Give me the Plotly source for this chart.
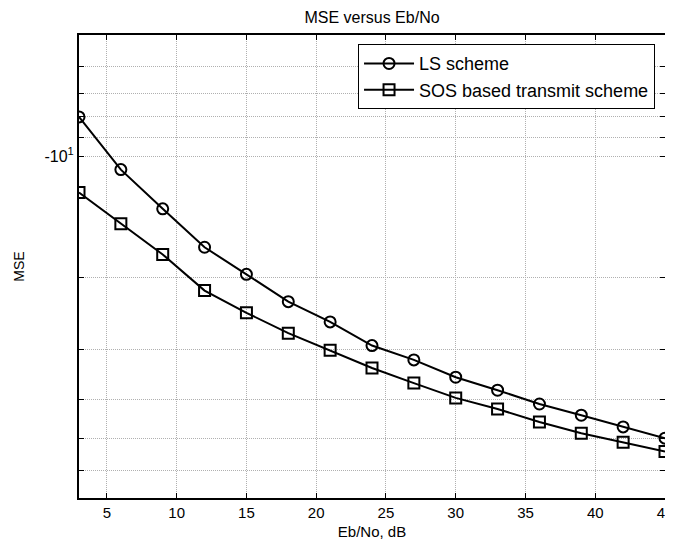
import math
import plotly.graph_objects as go

eb_no = [3, 6, 9, 12, 15, 18, 21, 24, 27, 30, 33, 36, 39, 42, 45]
mse_ls = [-8.0, -10.8, -13.5, -16.8, -19.6, -22.9, -25.7, -29.4, -31.9, -35.2,
          -37.9, -41.0, -43.7, -46.7, -49.8]
mse_sos = [-12.3, -14.7, -17.5, -21.5, -24.4, -27.4, -30.2, -33.4, -36.4, -39.6,
           -42.2, -45.4, -48.4, -51.0, -53.7]

x_ticks = [5, 10, 15, 20, 25, 30, 35, 40, 45]
y_tick_vals = [-6, -7, -8, -9, -10, -20, -30, -40, -50, -60]
y_tick_text = ["", "", "", "", "-10<sup>1</sup>", "", "", "", "", ""]
y_limits = [-5.02, -70]


# MATLAB-style log axis for negative data: plot magnitudes, label as negatives
def mag(v):
    return [-a for a in v]


font = "Liberation Sans, Arial, sans-serif"

# page body has an 8px margin, so the figure is sized/offset to compensate
W, H = 665, 532
ML, MR, MT, MB = 71, 8, 27, 42

fig = go.Figure()
fig.add_trace(go.Scatter(
    x=eb_no, y=mag(mse_ls), name="LS scheme", mode="lines+markers",
    line=dict(color="black", width=2),
    marker=dict(symbol="circle-open", size=11, color="black", line=dict(width=2)),
))
fig.add_trace(go.Scatter(
    x=eb_no, y=mag(mse_sos), name="SOS based transmit scheme", mode="lines+markers",
    line=dict(color="black", width=2),
    marker=dict(symbol="square-open", size=11, color="black", line=dict(width=2)),
))

fig.update_layout(
    width=W, height=H,
    margin=dict(l=ML, r=MR, t=MT, b=MB, autoexpand=False),
    paper_bgcolor="white", plot_bgcolor="white",
    font=dict(family=font, size=14, color="black"),
    title=dict(text="MSE versus Eb/No", x=(ML + (W - MR)) / 2 / W, xanchor="center",
               y=1 - 9 / H, yanchor="middle", font=dict(size=16, color="black")),
    showlegend=True,
    legend=dict(x=0.983, xanchor="right", y=0.98, yanchor="top",
                bgcolor="white", bordercolor="black", borderwidth=1,
                font=dict(size=18), tracegroupgap=0, itemwidth=50),
)
grid_style = dict(showgrid=True, gridcolor="#b0b0b0", griddash="1px,1px", gridwidth=1)
fig.update_xaxes(
    range=[3, 45], tickvals=x_ticks, ticks="inside", ticklen=5, tickcolor="black",
    showline=True, linecolor="black", linewidth=2, mirror="allticks",
    zeroline=False, automargin=False, ticklabeloverflow="allow",
    title=dict(text="Eb/No, dB", standoff=9, font=dict(size=15)),
    tickfont=dict(size=15), **grid_style,
)
fig.update_yaxes(
    type="log", range=[math.log10(-y_limits[1]), math.log10(-y_limits[0])],
    tickvals=mag(y_tick_vals), ticktext=y_tick_text,
    ticks="inside", ticklen=5, tickcolor="black",
    showline=True, linecolor="black", linewidth=2, mirror="allticks",
    zeroline=False, automargin=False, ticklabeloverflow="allow",
    title=dict(text="MSE", standoff=17, font=dict(size=14)),
    tickfont=dict(size=16), **grid_style,
)

fig.write_html("out.html")
